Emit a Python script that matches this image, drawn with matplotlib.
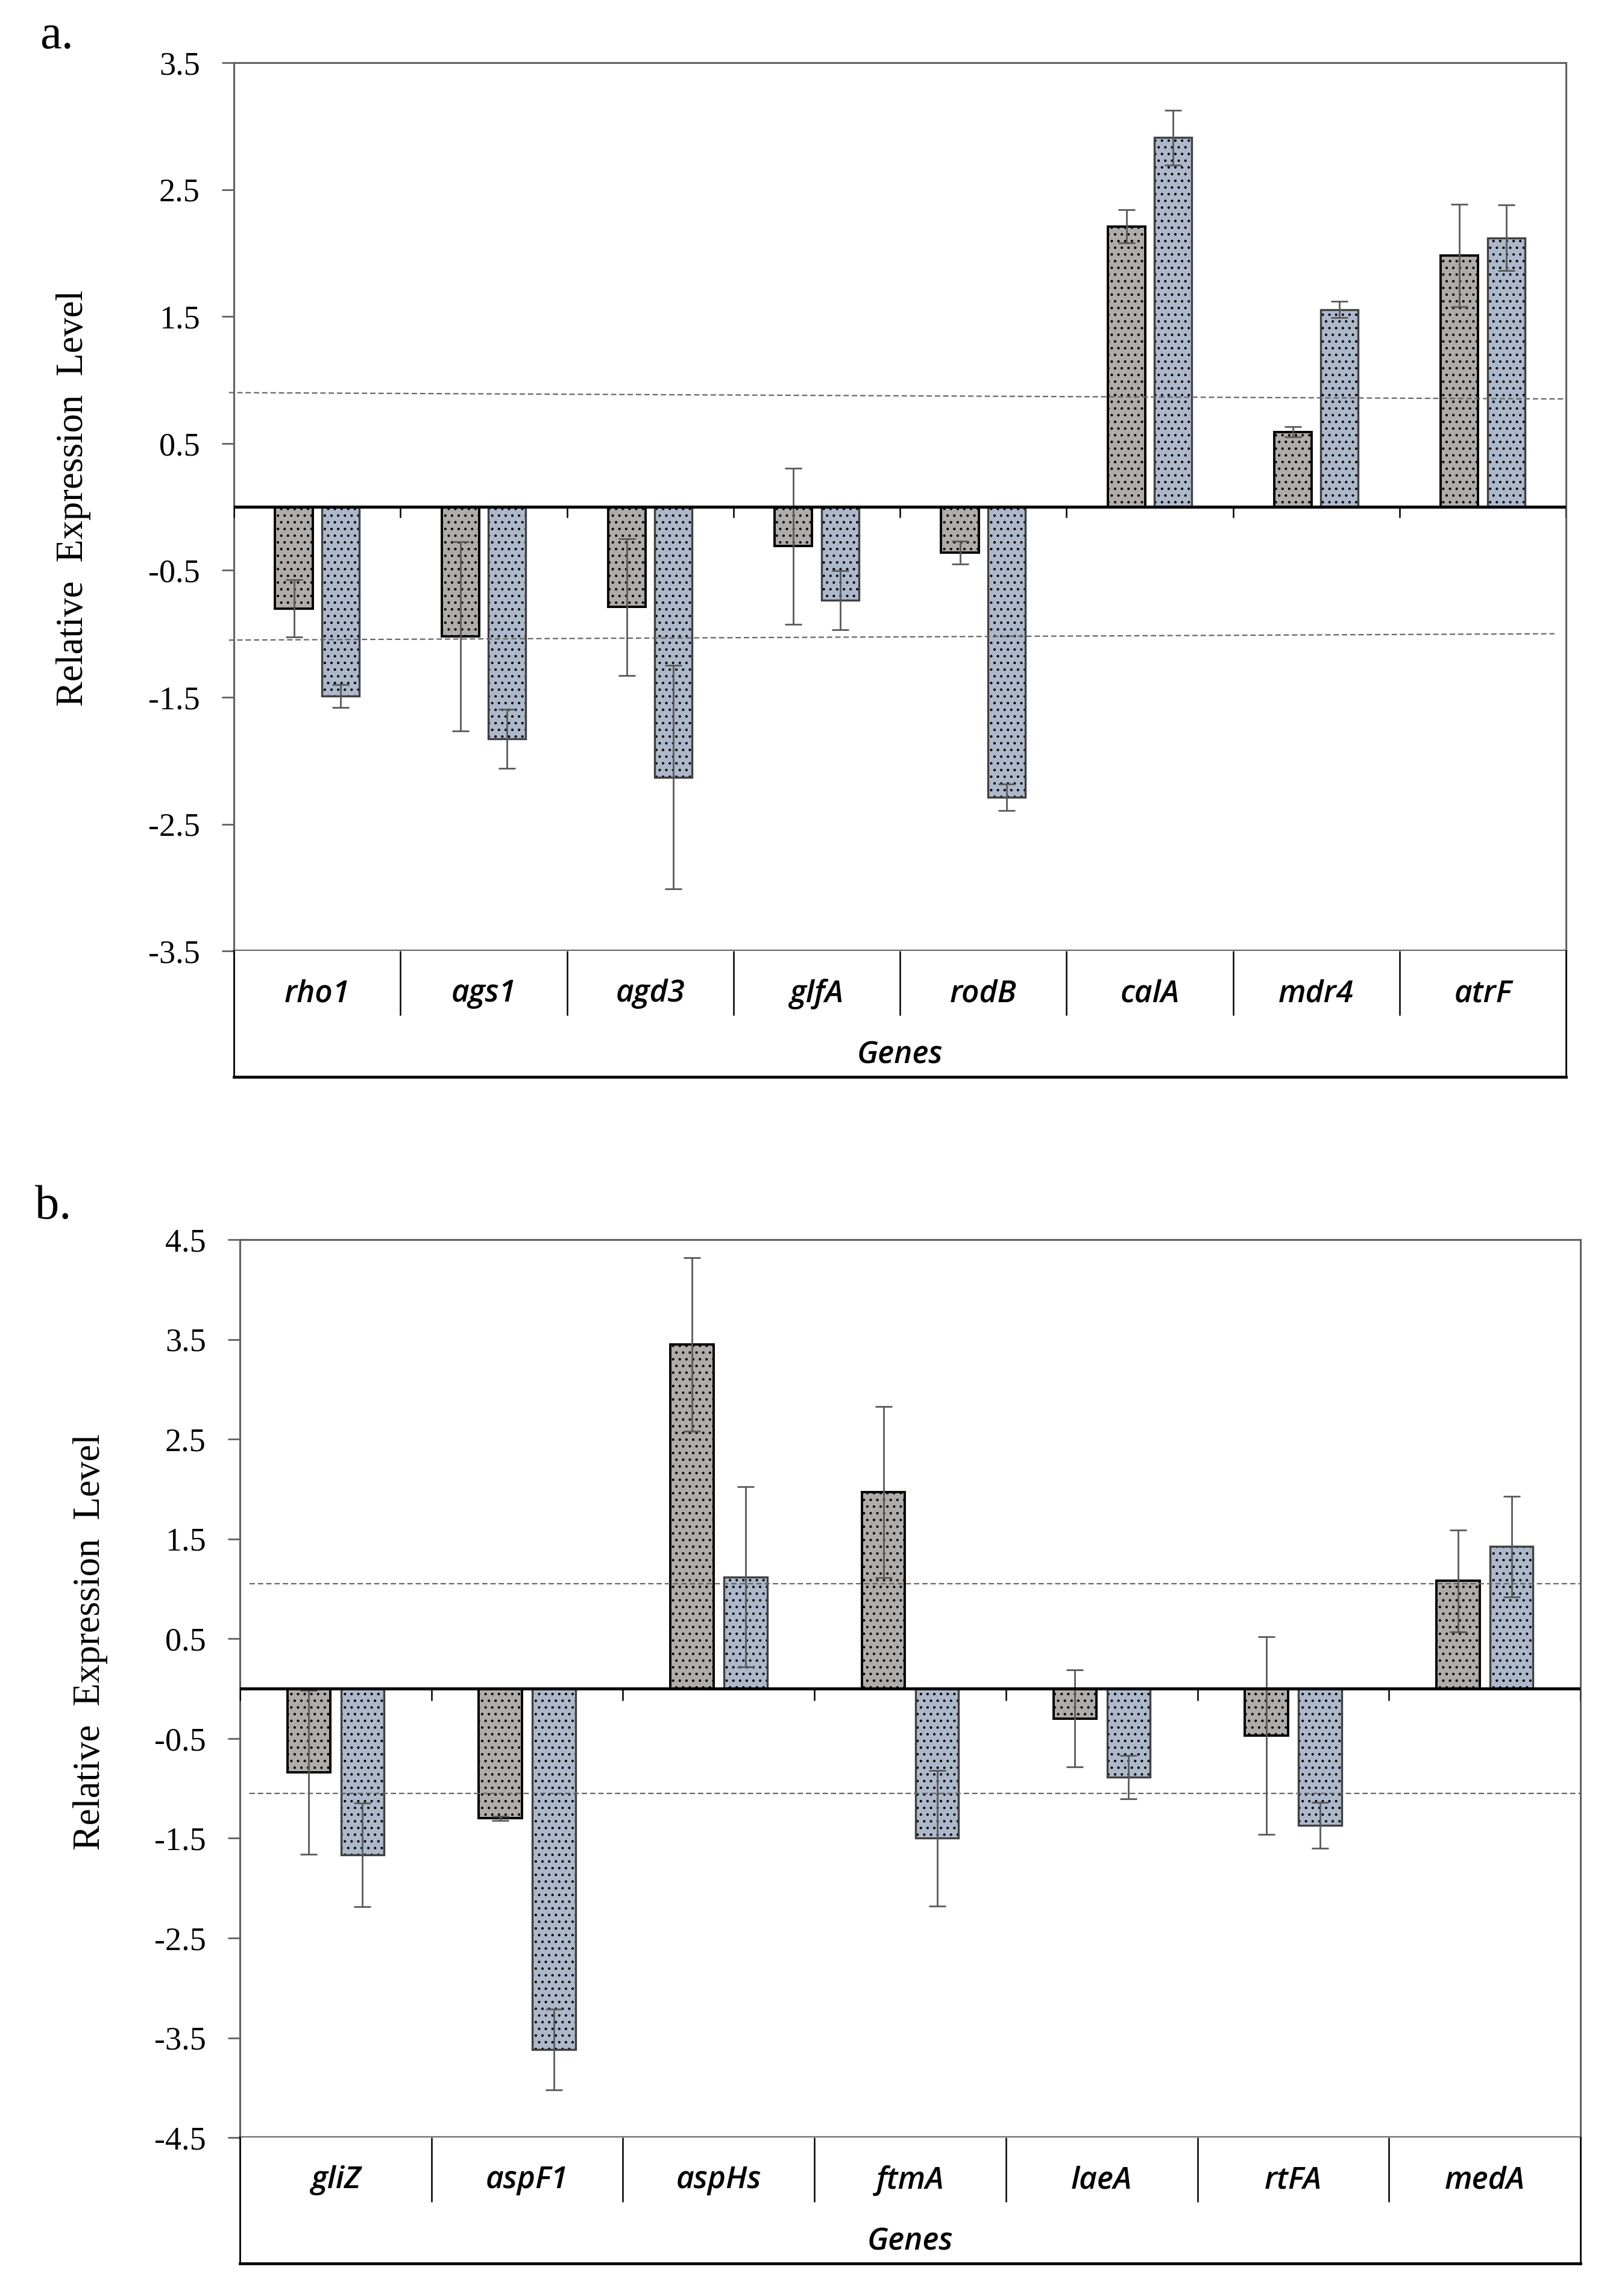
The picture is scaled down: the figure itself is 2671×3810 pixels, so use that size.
import matplotlib
matplotlib.use("Agg")
import matplotlib.pyplot as plt
import numpy as np

# ---------------- data ----------------
genes_a = ["rho1", "ags1", "agd3", "glfA", "rodB", "calA", "mdr4", "atrF"]
grey_a = [-0.80, -1.02, -0.79, -0.31, -0.36, 2.21, 0.59, 1.98]
grey_a_err = [0.225, 0.745, 0.537, 0.615, 0.09, 0.13, 0.04, 0.405]
blue_a = [-1.49, -1.83, -2.13, -0.735, -2.29, 2.91, 1.555, 2.12]
blue_a_err = [0.09, 0.233, 0.88, 0.233, 0.105, 0.215, 0.065, 0.26]
thr_a_upper = [0.90, 0.85]
thr_a_lower = [-1.05, -1.00]
yticks_a = [3.5, 2.5, 1.5, 0.5, -0.5, -1.5, -2.5, -3.5]

genes_b = ["gliZ", "aspF1", "aspHs", "ftmA", "laeA", "rtFA", "medA"]
grey_b = [-0.84, -1.30, 3.45, 1.97, -0.30, -0.47, 1.08]
grey_b_err = [0.82, 0.02, 0.87, 0.86, 0.485, 0.99, 0.51]
blue_b = [-1.665, -3.62, 1.12, -1.50, -0.885, -1.37, 1.425]
blue_b_err = [0.52, 0.405, 0.905, 0.68, 0.217, 0.23, 0.505]
thr_b_upper = [1.05, 1.05]
thr_b_lower = [-1.05, -1.05]
yticks_b = [4.5, 3.5, 2.5, 1.5, 0.5, -0.5, -1.5, -2.5, -3.5, -4.5]

xlabel_text = "Genes"
ylabel_text = "Relative  Expression  Level"

# ---------------- style ----------------
plt.rcParams['hatch.linewidth'] = 0.7
plt.rcParams['axes.unicode_minus'] = False
SERIF = ['Liberation Serif', 'DejaVu Serif']
SANS = ['Open Sans', 'DejaVu Sans']
GREY_FILL = '#b0acaa'
BLUE_FILL = '#adb9cb'
FRAME = '#606060'

fig = plt.figure(figsize=(2671 / 200, 3810 / 200), dpi=200)


def panel(main_rect, lab_rect, genes, grey, grey_err, blue, blue_err,
          thr_up, thr_lo, thr_x, yticks, ylim, zero_tick):
    ax = fig.add_axes(main_rect)
    n = len(genes)
    x = np.arange(n) + 0.5
    off, w = 0.14, 0.225
    # filled + dotted bars
    ax.bar(x - off, grey, w, color=GREY_FILL, edgecolor='black', linewidth=0,
           hatch='...', zorder=2)
    ax.bar(x + off, blue, w, color=BLUE_FILL, edgecolor='black', linewidth=0,
           hatch='...', zorder=2)
    # outlines
    ax.bar(x - off, grey, w, facecolor='none', edgecolor='black',
           linewidth=1.4, zorder=3)
    ax.bar(x + off, blue, w, facecolor='none', edgecolor='#404040',
           linewidth=1.2, zorder=3)
    # threshold dashed lines
    ax.plot(thr_x[0], thr_up, color='#666666', lw=0.8, dashes=(4, 2.2),
            clip_on=False, zorder=4)
    ax.plot(thr_x[1], thr_lo, color='#666666', lw=0.8, dashes=(4, 2.2),
            clip_on=False, zorder=4)
    # error bars
    ax.errorbar(x - off, grey, yerr=grey_err, fmt='none', ecolor='#595959',
                elinewidth=1.0, capsize=4.9, capthick=1.0, zorder=5)
    ax.errorbar(x + off, blue, yerr=blue_err, fmt='none', ecolor='#595959',
                elinewidth=1.0, capsize=4.9, capthick=1.0, zorder=5)
    # zero line and boundary ticks
    ax.axhline(0, color='black', lw=1.8, zorder=6)
    ax.vlines(np.arange(n + 1), 0, -zero_tick, color='black', lw=0.9, zorder=6)

    ax.set_xlim(0, n)
    ax.set_ylim(*ylim)
    ax.set_xticks([])
    ax.set_yticks(yticks)
    ax.set_yticklabels([f"{v:.1f}" for v in yticks], family=SERIF)
    ax.tick_params(axis='y', direction='out', length=7.2, width=1.0,
                   color=FRAME, pad=13, labelsize=19.5)
    for s in ['top', 'left', 'right']:
        ax.spines[s].set_color(FRAME)
        ax.spines[s].set_linewidth(1.1)
    ax.spines['bottom'].set_color('#6b6b6b')
    ax.spines['bottom'].set_linewidth(1.6)

    lab = fig.add_axes(lab_rect)
    lab.set_xlim(0, n)
    lab.set_ylim(0, 1)
    lab.set_xticks([])
    lab.set_yticks([])
    lab.spines['top'].set_visible(False)
    for s in ['left', 'right']:
        lab.spines[s].set_color('black')
        lab.spines[s].set_linewidth(1.0)
    lab.spines['bottom'].set_color('black')
    lab.spines['bottom'].set_linewidth(1.7)
    lab.vlines(np.arange(1, n), 0.49, 1.0, color='black', lw=0.9)
    for xi, g in zip(x, genes):
        lab.text(xi, 0.66, g, ha='center', va='center', fontsize=18.5,
                 style='italic', weight='semibold', family=SANS)
    lab.text(n / 2, 0.17, xlabel_text, ha='center', va='center',
             fontsize=18.5, style='italic', weight='semibold', family=SANS)
    return ax


panel([0.1453, 0.5858, 0.8274, 0.3869], [0.1453, 0.5310, 0.8274, 0.0548],
      genes_a, grey_a, grey_a_err, blue_a, blue_a_err,
      thr_a_upper, thr_a_lower, ([-0.03, 8.0], [-0.03, 7.93]),
      yticks_a, (-3.5, 3.5), 0.085)

panel([0.1490, 0.0690, 0.8327, 0.3911], [0.1490, 0.0142, 0.8327, 0.0548],
      genes_b, grey_b, grey_b_err, blue_b, blue_b_err,
      thr_b_upper, thr_b_lower, ([0.05, 7.0], [0.05, 7.0]),
      yticks_b, (-4.5, 4.5), 0.12)

fig.text(0.0455, 0.783, ylabel_text, rotation=90, ha='center', va='center',
         fontsize=22.5, family=SERIF)
fig.text(0.0563, 0.285, ylabel_text, rotation=90, ha='center', va='center',
         fontsize=22.5, family=SERIF)
fig.text(0.0247, 0.984, "a.", ha='left', va='center', fontsize=29, family=SERIF)
fig.text(0.0218, 0.4743, "b.", ha='left', va='center', fontsize=29, family=SERIF)

fig.savefig("out.png", dpi=200, facecolor='white')
